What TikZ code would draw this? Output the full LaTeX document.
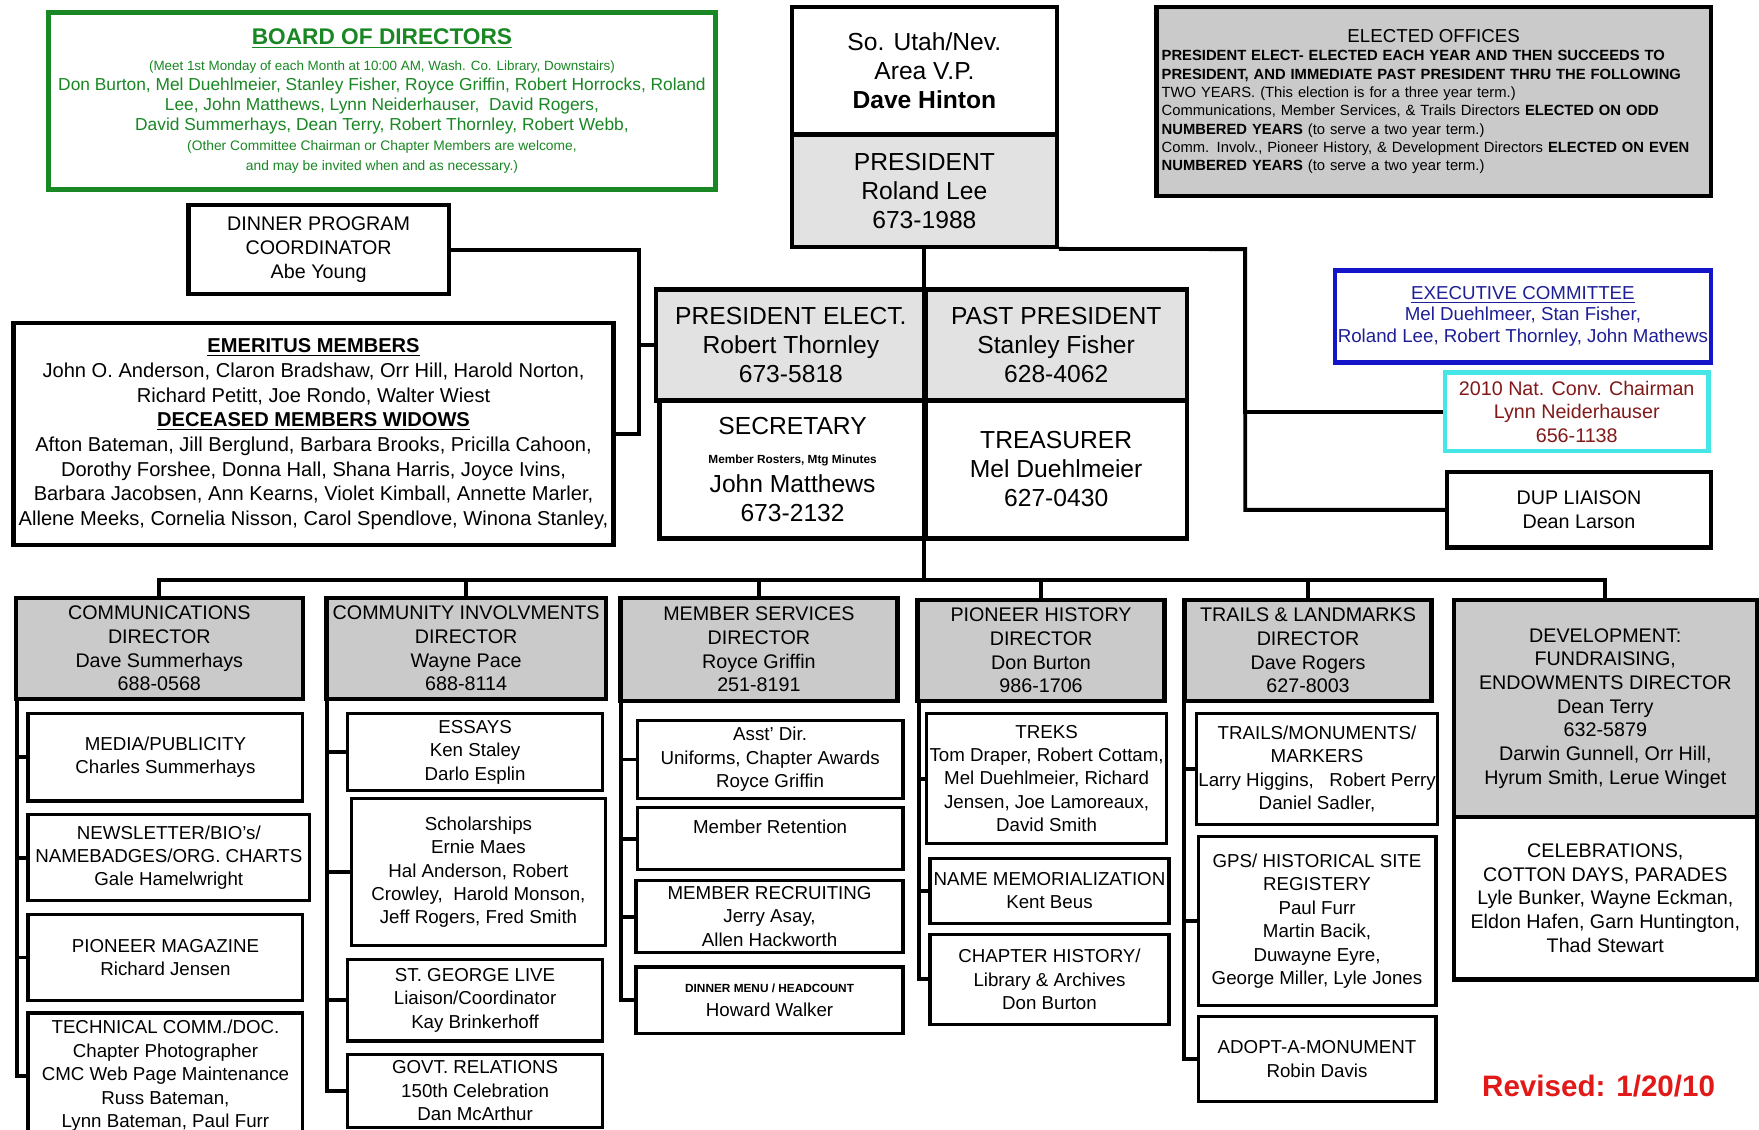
\documentclass[tikz,border=0pt]{standalone}
\usepackage{fontspec}
\setmainfont{Liberation Sans}
\usepackage{tikz}

\definecolor{boxgray}{RGB}{226,226,226}
\definecolor{dirgray}{RGB}{202,202,202}
\definecolor{boardgreen}{RGB}{25,135,35}
\definecolor{execblue}{RGB}{20,20,200}
\definecolor{exectext}{RGB}{30,30,150}
\definecolor{convcyan}{RGB}{70,230,230}
\definecolor{convred}{RGB}{130,25,25}
\definecolor{revred}{RGB}{225,25,25}

\newcommand{\fTop}{\fontsize{12.5}{14.7}\selectfont}
\newcommand{\fDir}{\fontsize{10}{12}\selectfont}
\newcommand{\fKid}{\fontsize{9.5}{11.9}\selectfont}
\newcommand{\fTiny}{\fontsize{6}{7.5}\selectfont\bfseries}

\begin{document}
\begin{tikzpicture}[x=0.02cm,y=-0.02cm,
        dims/.style 2 args={minimum width=#1*0.02cm,minimum height=#2*0.02cm},
        box/.style={draw=black,line width=2.2pt,align=center,inner sep=1pt},
        dir/.style={box,fill=dirgray,font=\fDir},
        kid/.style={draw=black,line width=1.6pt,align=center,inner sep=1pt,font=\fKid},
        link/.style={line width=2pt}]
        \useasboundingbox[fill=white] (0,0) rectangle (1568,1007);

        \node[box,dims={236}{114},font=\fTop] (vp) at (824,63) {So. Utah/Nev.\\Area V.P.\\\textbf{Dave Hinton}};
        \node[box,dims={236}{100},font=\fTop,fill=boxgray] (pres) at (824,170) {PRESIDENT\\Roland Lee\\673-1988};
        \node[box,dims={595}{158},draw=boardgreen,text=boardgreen,line width=2.6pt,font=\fontsize{8.8}{10.2}\selectfont] (board) at (340.5,90)
            {{\fontsize{11.5}{13}\selectfont\bfseries\underline{BOARD OF DIRECTORS}}\\[3pt]
            {\fontsize{6.8}{7}\selectfont (Meet 1st Monday of each Month at 10:00 AM, Wash. Co. Library, Downstairs)}\\
            Don Burton, Mel Duehlmeier, Stanley Fisher, Royce Griffin, Robert Horrocks, Roland\\
            Lee, John Matthews, Lynn Neiderhauser,\ \ David Rogers,\\
            David Summerhays, Dean Terry, Robert Thornley, Robert Webb,\\
            {\fontsize{7}{7}\selectfont (Other Committee Chairman or Chapter Members are welcome,}\\
            {\fontsize{7}{7}\selectfont and may be invited when and as necessary.)}};
        \node[box,dims={494}{169},fill=dirgray,align=left,text width=9.7cm,inner sep=2pt,font=\fontsize{7.5}{9.3}\selectfont] (elected) at (1278,90.5)
            {{\centering\fontsize{9.5}{11}\selectfont ELECTED OFFICES\par}
            \textbf{PRESIDENT ELECT- ELECTED EACH YEAR AND THEN SUCCEEDS TO}\\
            \textbf{PRESIDENT, AND IMMEDIATE PAST PRESIDENT THRU THE FOLLOWING}\\
            TWO YEARS. (This election is for a three year term.)\\
            Communications, Member Services, \& Trails Directors \textbf{ELECTED ON ODD}\\
            \textbf{NUMBERED YEARS} (to serve a two year term.)\\
            Comm. Involv., Pioneer History, \& Development Directors \textbf{ELECTED ON EVEN}\\
            \textbf{NUMBERED YEARS} (to serve a two year term.)};

        \node[box,dims={232}{79},font=\fDir] (dinner) at (284,222.5) {DINNER PROGRAM\\COORDINATOR\\Abe Young};
        \node[box,dims={535}{198},font=\fontsize{10.2}{12.5}\selectfont] (emer) at (279.5,387)
            {{\bfseries\underline{EMERITUS MEMBERS}}\\
            John O. Anderson, Claron Bradshaw, Orr Hill, Harold Norton,\\
            Richard Petitt, Joe Rondo, Walter Wiest\\
            {\bfseries\underline{DECEASED MEMBERS WIDOWS}}\\
            Afton Bateman, Jill Berglund, Barbara Brooks, Pricilla Cahoon,\\
            Dorothy Forshee, Donna Hall, Shana Harris, Joyce Ivins,\\
            Barbara Jacobsen, Ann Kearns, Violet Kimball, Annette Marler,\\
            Allene Meeks, Cornelia Nisson, Carol Spendlove, Winona Stanley,};

        \node[box,dims={240}{99},font=\fTop,fill=boxgray] (preselect) at (705,307.5) {PRESIDENT ELECT.\\Robert Thornley\\673-5818};
        \node[box,dims={233}{99},font=\fTop,fill=boxgray] (pastpres) at (941.5,307.5) {PAST PRESIDENT\\Stanley Fisher\\628-4062};
        \node[box,dims={237}{123},font=\fTop] (sec) at (706.5,418.5) {SECRETARY\\{\fTiny Member Rosters, Mtg Minutes}\\John Matthews\\673-2132};
        \node[box,dims={233}{123},font=\fTop] (treas) at (941.5,418.5) {TREASURER\\Mel Duehlmeier\\627-0430};

        \node[box,dims={335}{82},draw=execblue,text=exectext,font=\fontsize{9.5}{10.8}\selectfont] (exec) at (1357.5,282)
            {\underline{EXECUTIVE COMMITTEE}\\Mel Duehlmeer, Stan Fisher,\\Roland Lee, Robert Thornley, John Mathews};
        \node[box,dims={235}{70},draw=convcyan,text=convred,font=\fDir] (conv) at (1405.5,367) {2010 Nat. Conv. Chairman\\Lynn Neiderhauser\\656-1138};
        \node[box,dims={235}{67},font=\fDir] (dup) at (1407.5,454.5) {DUP LIAISON\\Dean Larson};

        \node[dir,dims={256}{90}] (comm) at (142,578) {COMMUNICATIONS\\DIRECTOR\\Dave Summerhays\\688-0568};
        \node[dir,dims={249}{90}] (comminv) at (415.5,578) {COMMUNITY INVOLVMENTS\\DIRECTOR\\Wayne Pace\\688-8114};
        \node[dir,dims={247}{92}] (memsvc) at (676.5,579) {MEMBER SERVICES\\DIRECTOR\\Royce Griffin\\251-8191};
        \node[dir,dims={220}{90}] (pioneer) at (928,580) {PIONEER HISTORY\\DIRECTOR\\Don Burton\\986-1706};
        \node[dir,dims={220}{90}] (trails) at (1166,580) {TRAILS \& LANDMARKS\\DIRECTOR\\Dave Rogers\\627-8003};
        \node[dir,dims={270}{193}] (dev) at (1431,631.5) {DEVELOPMENT:\\FUNDRAISING,\\ENDOWMENTS DIRECTOR\\Dean Terry\\632-5879\\Darwin Gunnell, Orr Hill,\\Hyrum Smith, Lerue Winget};
        \node[box,dims={270}{145},font=\fDir] (celeb) at (1431,800.5) {CELEBRATIONS,\\COTTON DAYS, PARADES\\Lyle Bunker, Wayne Eckman,\\Eldon Hafen, Garn Huntington,\\Thad Stewart};

        \node[kid,dims={245}{78}] (media) at (147.5,675) {MEDIA/PUBLICITY\\Charles Summerhays};
        \node[kid,dims={251}{77}] (news) at (150.5,764.5) {NEWSLETTER/BIO's/\\NAMEBADGES/ORG. CHARTS\\Gale Hamelwright};
        \node[kid,dims={245}{77}] (pmag) at (147.5,853.5) {PIONEER MAGAZINE\\Richard Jensen};
        \node[kid,dims={245}{112}] (tech) at (147.5,959) {TECHNICAL COMM./DOC.\\Chapter Photographer\\CMC Web Page Maintenance\\Russ Bateman,\\Lynn Bateman, Paul Furr};

        \node[kid,dims={227}{69}] (essays) at (423.5,670.5) {ESSAYS\\Ken Staley\\Darlo Esplin};
        \node[kid,dims={227}{131}] (schol) at (426.5,777.5) {Scholarships\\Ernie Maes\\Hal Anderson, Robert\\Crowley,\ \ Harold Monson,\\Jeff Rogers, Fred Smith};
        \node[kid,dims={227}{73}] (stgeorge) at (423.5,891.5) {ST. GEORGE LIVE\\Liaison/Coordinator\\Kay Brinkerhoff};
        \node[kid,dims={227}{65}] (govt) at (423.5,972.5) {GOVT. RELATIONS\\150th Celebration\\Dan McArthur};

        \node[kid,dims={237}{70}] (asst) at (686.5,677) {Asst' Dir.\\Uniforms, Chapter Awards\\Royce Griffin};
        \node[kid,dims={237}{55}] (retain) at (686.5,747.5) {Member Retention\\~};
        \node[kid,dims={238}{64}] (recruit) at (686,817) {MEMBER RECRUITING\\Jerry Asay,\\Allen Hackworth};
        \node[kid,dims={238}{59}] (menu) at (686,891.5) {{\fTiny DINNER MENU / HEADCOUNT}\\Howard Walker};

        \node[kid,dims={214}{116}] (treks) at (933,694) {TREKS\\Tom Draper, Robert Cottam,\\Mel Duehlmeier, Richard\\Jensen, Joe Lamoreaux,\\David Smith};
        \node[kid,dims={213}{58}] (namemem) at (935.5,794) {NAME MEMORIALIZATION\\Kent Beus};
        \node[kid,dims={213}{80}] (chaphist) at (935.5,873) {CHAPTER HISTORY/\\Library \& Archives\\Don Burton};

        \node[kid,dims={212}{99}] (markers) at (1174,685.5) {TRAILS/MONUMENTS/\\MARKERS\\Larry Higgins,\ \ \ Robert Perry\\Daniel Sadler,};
        \node[kid,dims={212}{150}] (gps) at (1174,821) {GPS/ HISTORICAL SITE\\REGISTERY\\Paul Furr\\Martin Bacik,\\Duwayne Eyre,\\George Miller, Lyle Jones};
        \node[kid,dims={212}{76}] (adopt) at (1174,944) {ADOPT-A-MONUMENT\\Robin Davis};

        \node[text=revred,font=\fontsize{15}{18}\selectfont\bfseries] (revised) at (1425,968) {Revised: 1/20/10};

        \coordinate (lbend) at (570,387);
        \coordinate (rtrunk) at (1110,222);
        \coordinate (bus) at (825,517);
        \draw[link] (dinner.east) -| (lbend) -- (emer.east);
        \draw[link] (preselect.west) -- (preselect.west -| lbend);
        \draw[link] (pres.south east) -- (rtrunk) |- (dup.west);
        \draw[link] (rtrunk) |- (conv.west);
        \draw[link] (pres.south) -- (pres.south |- bus);
        \foreach \d in {comm,comminv,memsvc,pioneer,trails,dev}
            \draw[link] (bus) -| (\d.north);
        \foreach \k in {media,news,pmag,tech}
            \draw[link] ([xshift=0.06cm]comm.south west) |- (\k.west);
        \foreach \k in {essays,schol,stgeorge,govt}
            \draw[link] ([xshift=0.05cm]comminv.south west) |- (\k.west);
        \foreach \k in {asst,retain,recruit,menu}
            \draw[link] ([xshift=0.05cm]memsvc.south west) |- (\k.west);
        \foreach \k in {treks,namemem,chaphist}
            \draw[link] ([xshift=0.06cm]pioneer.south west) |- (\k.west);
        \foreach \k in {markers,gps,adopt}
            \draw[link] ([xshift=0.03cm]trails.south west) |- (\k.west);
    \end{tikzpicture}
\end{document}
